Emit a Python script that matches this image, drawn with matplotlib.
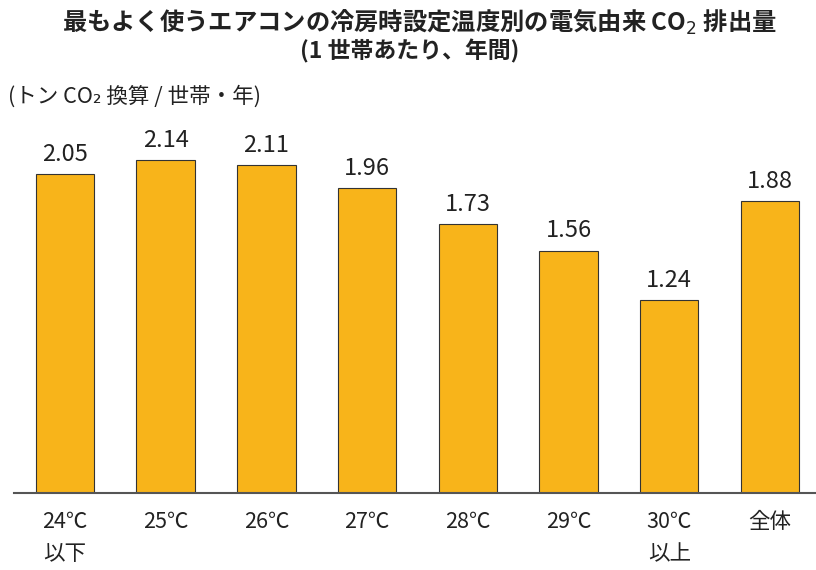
import matplotlib
matplotlib.use('Agg')
import matplotlib.pyplot as plt

plt.rcParams['font.family'] = ['Noto Sans CJK JP', 'DejaVu Sans']

categories = ['24℃\n以下', '25℃', '26℃', '27℃', '28℃', '29℃', '30℃\n以上', '全体']
values = [2.05, 2.14, 2.11, 1.96, 1.73, 1.56, 1.24, 1.88]

fig = plt.figure(figsize=(8.16, 5.70), dpi=100)
ax = fig.add_axes([14 / 816, 1 - 493 / 570, 802 / 816, 373 / 570])

x = range(len(values))
ax.bar(x, values, width=0.58, color='#F8B41A', edgecolor='#333333', linewidth=0.8)
for i, v in zip(x, values):
    ax.text(i, v + 0.085, f'{v:.2f}', ha='center', va='baseline', fontsize=17, color='#222222')

ax.set_xlim(-0.506, 7.457)
ax.set_ylim(0, 2.4)
ax.set_xticks(list(x))
ax.set_xticklabels(categories, fontsize=15.5, color='#222222', linespacing=1.6, va='top')
ax.tick_params(axis='x', length=0, pad=13)
ax.set_yticks([])
for s in ['top', 'right', 'left']:
    ax.spines[s].set_visible(False)
ax.spines['bottom'].set_color('#555555')
ax.spines['bottom'].set_linewidth(1.5)

fig.text(419 / 816, 1 - 22 / 570, '最もよく使うエアコンの冷房時設定温度別の電気由来 CO$_2$ 排出量',
         ha='center', va='center', fontsize=17.5, fontweight='bold', color='#222222')
fig.text(410 / 816, 1 - 51 / 570, '(1 世帯あたり、年間)',
         ha='center', va='center', fontsize=16.5, fontweight='bold', color='#222222')
fig.text(8 / 816, 1 - 97 / 570, '(トン CO₂ 換算 / 世帯・年)',
         ha='left', va='center', fontsize=15.5, color='#222222')

fig.savefig('out.png', dpi=100)
